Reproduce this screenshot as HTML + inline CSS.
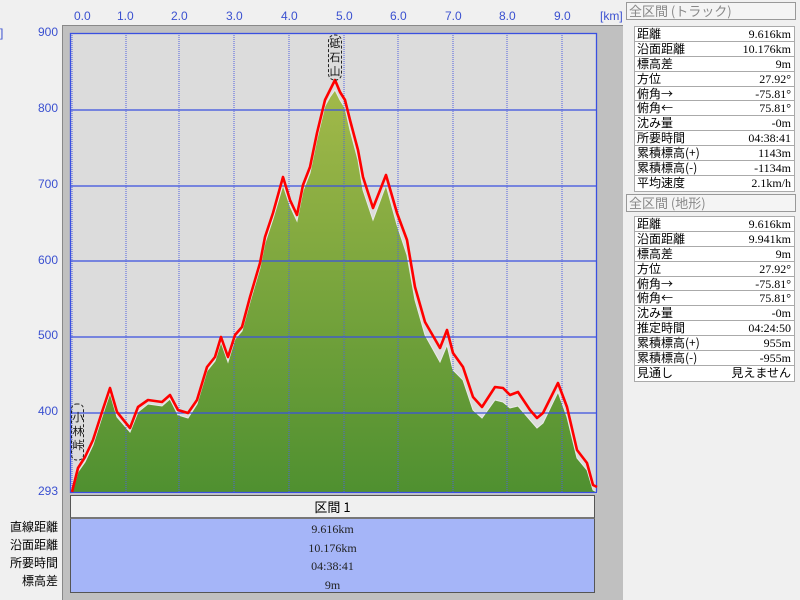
<!DOCTYPE html>
<html><head><meta charset="utf-8"><style>
body{margin:0;width:800px;height:600px;background:#f0f0f0;position:relative;overflow:hidden;font-family:"Liberation Serif","Noto Serif CJK SC","Noto Sans CJK JP",serif;font-size:13px;}
.ax{position:absolute;color:#3a50d0;font-family:"Liberation Sans",sans-serif;font-size:12px;}
.yl{position:absolute;right:742px;color:#3a50d0;font-family:"Liberation Sans",sans-serif;font-size:12px;}
.bl{position:absolute;right:742px;color:#000;font-family:"Noto Sans CJK JP",sans-serif;font-size:12px;line-height:18px;}
.hdr{position:absolute;left:626px;width:170px;height:18px;border:1px solid #999;background:#f4f4f4;color:#888;font-family:"Noto Sans CJK JP",sans-serif;font-size:13px;line-height:16px;padding-left:2px;box-sizing:border-box;}
.t{position:absolute;left:634px;width:161px;background:#fff;border:1px solid #aaa;box-sizing:border-box;}
.row{position:relative;height:14.9px;border-bottom:1px solid #aaa;box-sizing:border-box;overflow:hidden;font-size:12px;line-height:14px;}
.row:last-child{border-bottom:none}
.row .l{position:absolute;left:2px;top:0;font-family:"Noto Sans CJK JP",sans-serif;font-size:12px;line-height:14px}
.row .r{position:absolute;right:3px;top:0;font-family:"Liberation Serif",serif;}
.bv{position:absolute;left:70px;width:525px;text-align:center;font-size:12px;line-height:18.5px;color:#222;}
.vl{position:absolute;width:12px;font-family:'Noto Sans CJK JP',sans-serif;font-size:11px;line-height:14px;color:#111;text-align:center}
</style></head><body>
<div class="ax" style="left:74px;top:9px">0.0</div>
<div class="ax" style="left:117px;top:9px">1.0</div>
<div class="ax" style="left:171px;top:9px">2.0</div>
<div class="ax" style="left:226px;top:9px">3.0</div>
<div class="ax" style="left:281px;top:9px">4.0</div>
<div class="ax" style="left:336px;top:9px">5.0</div>
<div class="ax" style="left:390px;top:9px">6.0</div>
<div class="ax" style="left:445px;top:9px">7.0</div>
<div class="ax" style="left:499px;top:9px">8.0</div>
<div class="ax" style="left:554px;top:9px">9.0</div>
<div class="ax" style="left:600px;top:9px">[km]</div>
<div class="ax" style="left:0px;top:26px">]</div>
<div class="yl" style="top:25px">900</div>
<div class="yl" style="top:101px">800</div>
<div class="yl" style="top:177px">700</div>
<div class="yl" style="top:253px">600</div>
<div class="yl" style="top:328px">500</div>
<div class="yl" style="top:404px">400</div>
<div class="yl" style="top:484px">293</div>
<div style="position:absolute;left:62px;top:25px;width:561px;height:575px;background:#c0c0c0;border-left:1px solid #888;border-top:1px solid #888;box-sizing:border-box"></div>
<svg style="position:absolute;left:0;top:0" width="800" height="600">
<defs><linearGradient id="g" x1="0" y1="80" x2="0" y2="493" gradientUnits="userSpaceOnUse"><stop offset="0" stop-color="#a4ba4a"/><stop offset="1" stop-color="#4f9030"/></linearGradient></defs>
<rect x="70" y="33" width="527" height="460" fill="#dcdcdc"/>
<path d="M72,493 L78,472 85,462 93,445 102,417 110,393 117,417 130,432 138,412 148,404 162,406 170,399 178,415 188,418 197,404 207,371 215,361 221,342 228,362 235,339 242,331 250,302 260,268 265,243 273,219 283,185 290,206 297,221 303,191 310,173 317,139 325,106 330,97 335,90 340,100 345,108 350,130 358,160 363,190 373,220 386,185 397,225 407,255 415,300 425,335 440,362 447,345 453,370 463,380 473,410 482,418 495,400 503,402 510,408 518,406 530,420 537,428 543,423 558,392 567,417 577,458 587,470 593,490 597,492 597,493 Z" fill="url(#g)" stroke="#eaeaea" stroke-width="1"/>
<g stroke="#3a50e0" stroke-width="1.3">
<line x1="70" y1="110" x2="597" y2="110"/><line x1="70" y1="186" x2="597" y2="186"/><line x1="70" y1="261" x2="597" y2="261"/><line x1="70" y1="337" x2="597" y2="337"/><line x1="70" y1="413" x2="597" y2="413"/>
</g>
<g stroke="#5060e0" stroke-width="1" stroke-dasharray="1,1">
<line x1="126" y1="33" x2="126" y2="493"/><line x1="179" y1="33" x2="179" y2="493"/><line x1="234" y1="33" x2="234" y2="493"/><line x1="289" y1="33" x2="289" y2="493"/><line x1="344" y1="33" x2="344" y2="493"/><line x1="398" y1="33" x2="398" y2="493"/><line x1="453" y1="33" x2="453" y2="493"/><line x1="507" y1="33" x2="507" y2="493"/><line x1="562" y1="33" x2="562" y2="493"/><line x1="72" y1="33" x2="72" y2="493"/>
</g>
<rect x="70.5" y="33.5" width="526" height="459" fill="none" stroke="#3a50e0" stroke-width="1.3"/>
<path d="M72,492 L78,468 85,457 93,440 102,412 110,388 117,412 130,428 138,407 148,400 162,402 170,395 178,410 188,413 197,400 207,367 215,357 221,337 228,357 235,335 242,327 250,297 260,263 265,237 273,213 283,177 290,200 297,215 303,185 310,167 317,133 325,100 330,90 335,80 340,92 345,100 350,120 358,150 363,177 373,208 386,175 397,213 407,240 415,287 425,322 440,348 447,330 453,353 463,367 473,397 482,407 495,387 503,388 510,395 518,392 530,410 537,418 543,413 558,383 567,407 577,450 587,463 593,485 597,487" fill="none" stroke="#ff0000" stroke-width="2.6" stroke-linejoin="round"/>
<rect x="71.5" y="404" width="12" height="56" rx="5" fill="none" stroke="#222" stroke-dasharray="3,2"/>
<rect x="328.5" y="35" width="13" height="45" rx="6" fill="none" stroke="#222" stroke-dasharray="3,2"/>
</svg>
<div class="vl" style="left:72px;top:410px">小<br>林<br>峠</div>
<div class="vl" style="left:329px;top:36px">砥<br>石<br>山</div>
<div style="position:absolute;left:70px;top:495px;width:525px;height:24px;background:#f0f0f0;border:1px solid #555;border-bottom:2px solid #777;box-sizing:border-box;text-align:center;font-family:'Noto Sans CJK JP',sans-serif;font-size:13px;line-height:22px">区間 1</div>
<div style="position:absolute;left:70px;top:519px;width:525px;height:74px;background:#a5b5f8;border:1px solid #555;border-top:none;box-sizing:border-box"></div>
<div class="bv" style="top:520px">9.616km<br>10.176km<br>04:38:41<br>9m</div>
<div class="bl" style="top:518px;text-align:right">直線距離<br>沿面距離<br>所要時間<br>標高差</div>
<div class="hdr" style="top:2px">全区間 (トラック)</div>
<div class="t" style="top:26px">
<div class="row"><span class="l">距離</span><span class="r">9.616km</span></div>
<div class="row"><span class="l">沿面距離</span><span class="r">10.176km</span></div>
<div class="row"><span class="l">標高差</span><span class="r">9m</span></div>
<div class="row"><span class="l">方位</span><span class="r">27.92°</span></div>
<div class="row"><span class="l">俯角→</span><span class="r">-75.81°</span></div>
<div class="row"><span class="l">俯角←</span><span class="r">75.81°</span></div>
<div class="row"><span class="l">沈み量</span><span class="r">-0m</span></div>
<div class="row"><span class="l">所要時間</span><span class="r">04:38:41</span></div>
<div class="row"><span class="l">累積標高(+)</span><span class="r">1143m</span></div>
<div class="row"><span class="l">累積標高(-)</span><span class="r">-1134m</span></div>
<div class="row"><span class="l">平均速度</span><span class="r">2.1km/h</span></div>
</div>
<div class="hdr" style="top:194px">全区間 (地形)</div>
<div class="t" style="top:216px">
<div class="row"><span class="l">距離</span><span class="r">9.616km</span></div>
<div class="row"><span class="l">沿面距離</span><span class="r">9.941km</span></div>
<div class="row"><span class="l">標高差</span><span class="r">9m</span></div>
<div class="row"><span class="l">方位</span><span class="r">27.92°</span></div>
<div class="row"><span class="l">俯角→</span><span class="r">-75.81°</span></div>
<div class="row"><span class="l">俯角←</span><span class="r">75.81°</span></div>
<div class="row"><span class="l">沈み量</span><span class="r">-0m</span></div>
<div class="row"><span class="l">推定時間</span><span class="r">04:24:50</span></div>
<div class="row"><span class="l">累積標高(+)</span><span class="r">955m</span></div>
<div class="row"><span class="l">累積標高(-)</span><span class="r">-955m</span></div>
<div class="row"><span class="l">見通し</span><span class="r" style="font-family:'Noto Sans CJK JP',sans-serif;font-size:12px">見えません</span></div>
</div>
</body></html>
